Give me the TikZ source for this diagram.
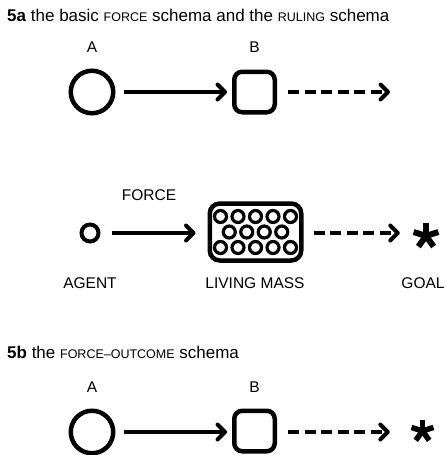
\documentclass[tikz,border=0pt]{standalone}
\usepackage{fontspec}
\setmainfont{Liberation Sans}
\usetikzlibrary{arrows.meta}
\newcommand{\smcp}[1]{{\fontsize{12.5}{12.5}\selectfont #1}}
\begin{document}
\begin{tikzpicture}[x=1pt,y=-1pt,
 lbl/.style={font=\fontsize{15.5}{15.5}\selectfont, inner sep=0pt},
 ttl/.style={font=\fontsize{17}{18}\selectfont, inner sep=0pt, anchor=west},
 circA/.style={circle, draw, line width=4.5pt, minimum size=42.5pt, inner sep=0pt},
 sqB/.style={draw, line width=4.5pt, rounded corners=8pt, minimum size=40.5pt, inner sep=0pt},
 massbox/.style={draw, line width=4.5pt, rounded corners=10pt, minimum width=91.5pt, minimum height=57pt, inner sep=0pt},
 agentc/.style={circle, draw, line width=4pt, minimum size=17pt, inner sep=0pt},
 astnode/.style={inner sep=0pt, minimum size=26pt},
 solidarr/.style={line width=4pt, -{Straight Barb[length=7.5pt,width=15pt,round]}},
 dasharr/.style={line width=4pt, dash pattern=on 11pt off 5.5pt, -{Straight Barb[length=7.5pt,width=15pt,round]}},
 astarm/.style={line width=6pt},
]
\useasboundingbox (0,0) rectangle (445,455);

% ---------- 5a ----------
\node[ttl] (t1) at (7,15) {\textbf{5a} the basic \smcp{FORCE} schema and the \smcp{RULING} schema};
\node[lbl] (la) at (92,47) {A};
\node[lbl] (lb) at (254.5,47) {B};
\node[circA] (a1) at (92,92) {};
\node[sqB] (b1) at (254.5,92) {};
\coordinate (e1) at (390,92);
\draw[solidarr, shorten <=8.5pt, shorten >=5pt] (a1.east) -- (b1.west);
\draw[dasharr, shorten <=11pt] (b1.east) -- (e1);

% ---------- ruling schema ----------
\node[lbl] (lforce) at (149,195) {FORCE};
\node[agentc] (ag) at (90,233) {};
\node[massbox] (m) at (255.5,232) {};
\begin{scope}[shift={(m.center)}, line width=3.2pt]
  \foreach \dx in {-35,-17.5,0,17.5,35} {
    \draw (\dx,-15.5) circle (6pt);
    \draw (\dx,15.5) circle (6pt);
  }
  \foreach \dx in {-26.25,-8.75,8.75,26.25} {
    \draw (\dx,0) circle (6pt);
  }
\end{scope}
\node[astnode] (g1) at (426,236) {};
\foreach \a in {90,18,162,234,306} \draw[astarm] (g1.center) -- ++(\a:13pt);
\draw[solidarr, shorten <=11pt, shorten >=12pt] (ag.east) -- (ag.east -| m.west);
\draw[dasharr, shorten <=10pt, shorten >=13pt] (ag.east -| m.east) -- (ag.east -| g1.west);
\node[lbl] (lagent) at (90,283) {AGENT};
\node[lbl] (lmass) at (255,283) {LIVING MASS};
\node[lbl] (lgoal) at (423,283) {GOAL};

% ---------- 5b ----------
\node[ttl] (t2) at (7,352) {\textbf{5b} the \smcp{FORCE--OUTCOME} schema};
\node[lbl] (la2) at (92,387) {A};
\node[lbl] (lb2) at (254.5,387) {B};
\node[circA] (a2) at (92,432) {};
\node[sqB] (b2) at (254.5,431) {};
\node[astnode] (g2) at (422.5,431) {};
\foreach \a in {90,18,162,234,306} \draw[astarm, line width=5.5pt] (g2.center) -- ++(\a:11.5pt);
\draw[solidarr, shorten <=8.5pt, shorten >=5pt] (a2.east) -- (a2.east -| b2.west);
\draw[dasharr, shorten <=11pt, shorten >=19.5pt] (a2.east -| b2.east) -- (a2.east -| g2.west);
\end{tikzpicture}
\end{document}
